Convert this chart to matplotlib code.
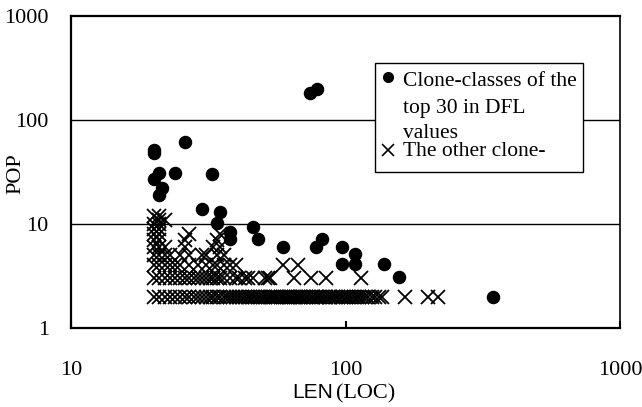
import matplotlib.pyplot as plt
from matplotlib.patches import Rectangle

# top 30 clone-classes in DFL values (LEN, POP)
top_len = [20, 20, 26, 21, 20, 24, 21.5, 21, 32.5, 30, 35, 34, 38, 38, 46, 48, 59,
           78, 82, 97, 108, 97, 108, 138, 157, 344, 74, 79]
top_pop = [52, 48, 61, 31, 27, 31, 22, 19, 30, 14, 13, 10.2, 8.3, 7.1, 9.3, 7.1, 6,
           6, 7.2, 6, 5.1, 4.1, 4.1, 4.1, 3.1, 2, 182, 199]

# the other clone-classes, one list of LEN per POP level
len_pop2 = [20, 21, 22, 23, 24, 25, 26, 27, 28, 29, 30, 31, 32, 33, 34, 35, 36, 37, 38,
            39, 40, 41, 42, 43, 44, 45, 46, 47, 48, 49, 50, 51, 52, 53, 54, 55, 56, 57,
            58, 59, 60, 61, 62, 63, 64, 65, 66, 67, 68, 69, 70, 72, 73, 75, 76, 78, 79,
            80, 82, 84, 85, 87, 88, 90, 92, 94, 96, 98, 100, 102, 105, 107, 110, 112,
            115, 118, 121, 125, 128, 132, 136, 165, 200, 217]
len_pop3 = [20, 21, 22, 23, 24, 25, 26, 27, 28, 29, 30, 31, 32, 33, 34, 35, 36, 38, 40,
            41, 43, 44, 46, 51, 52, 53, 65, 75, 85, 114]
len_pop4 = [20, 21, 22, 23, 24, 25, 27, 29, 31, 33, 34, 36, 38, 40, 59, 67]
len_pop5 = [20, 21, 22, 23, 25, 27, 30, 31, 34, 36]
len_pop6 = [20, 21, 22, 26, 33, 35]
len_pop7 = [20, 21, 26, 34]
len_pop8 = [20, 21, 27, 35]
len_pop9 = [20, 21]
len_pop10 = [20, 21]
len_pop11 = [21, 22]
len_pop12 = [20, 21]

other = {2: len_pop2, 3: len_pop3, 4: len_pop4, 5: len_pop5, 6: len_pop6, 7: len_pop7,
         8: len_pop8, 9: len_pop9, 10: len_pop10, 11: len_pop11, 12: len_pop12}

legend_top = ['Clone-classes of the', 'top 30 in DFL', 'values']
legend_other = 'The other clone-'

serif = ['Liberation Serif', 'DejaVu Serif']
sans = ['Liberation Sans', 'DejaVu Sans']

fig = plt.figure(figsize=(6.42, 4.07), dpi=100)
ax = fig.add_axes([71/642, 1 - 328/407, 549/642, 312/407])

# scatter -------------------------------------------------------------------------
for pop, lens in other.items():
    ax.plot(lens, [pop] * len(lens), ls='none', marker='x', ms=9.5, mew=1.3,
            color='black', zorder=3)
ax.plot(top_len, top_pop, ls='none', marker='o', ms=8.7, color='black', zorder=4)

# axes ----------------------------------------------------------------------------
ax.set_xscale('log')
ax.set_yscale('log')
ax.set_xlim(10, 1000)
ax.set_ylim(1, 1000)
ax.minorticks_off()
for y in [10, 100]:
    ax.axhline(y, color='black', lw=1.0, zorder=1)

ax.set_xticks([10, 100, 1000])
ax.set_xticklabels(['10', '100', '1000'], family=serif, fontsize=16)
ax.set_yticks([1, 10, 100, 1000])
ax.set_yticklabels(['1', '10', '100', '1000'], family=serif, fontsize=16)
ax.tick_params(axis='x', direction='in', length=5, width=1.5, pad=24)
ax.tick_params(axis='y', length=0, pad=16)
for s in ['left', 'bottom', 'top']:
    ax.spines[s].set_linewidth(1.6)
ax.spines['right'].set_linewidth(1.2)

fig.text(16/642, 1 - 174/407, 'POP', family=serif, fontsize=16, rotation=90,
         ha='center', va='center')
fig.text(333/642, 1 - 398/407, 'LEN', family=sans, fontsize=15, ha='right', va='baseline')
fig.text(336/642, 1 - 398/407, '(LOC)', family=serif, fontsize=16, ha='left', va='baseline')

# legend box --------------------------------------------------------------------
ax.add_patch(Rectangle((0.5537, 0.5), 0.379, 0.349, transform=ax.transAxes,
                       facecolor='white', edgecolor='black', lw=1.0, zorder=5))
ax.plot([0.5773], [(328 - 77) / 312], transform=ax.transAxes, marker='o', ms=7,
        color='black', zorder=6, clip_on=False)
ax.plot([0.5773], [(328 - 150) / 312], transform=ax.transAxes, marker='x', ms=8,
        mew=1.2, color='black', zorder=6, clip_on=False)
for txt, py in zip(legend_top, [81, 108, 134]):
    ax.text(0.6047, (328 - py) / 312, txt, transform=ax.transAxes, family=serif,
            fontsize=15.5, va='center', ha='left', zorder=6)
ax.text(0.6047, (328 - 152) / 312, legend_other, transform=ax.transAxes, family=serif,
        fontsize=15.5, va='center', ha='left', zorder=6)

fig.savefig('out.png', dpi=100)
